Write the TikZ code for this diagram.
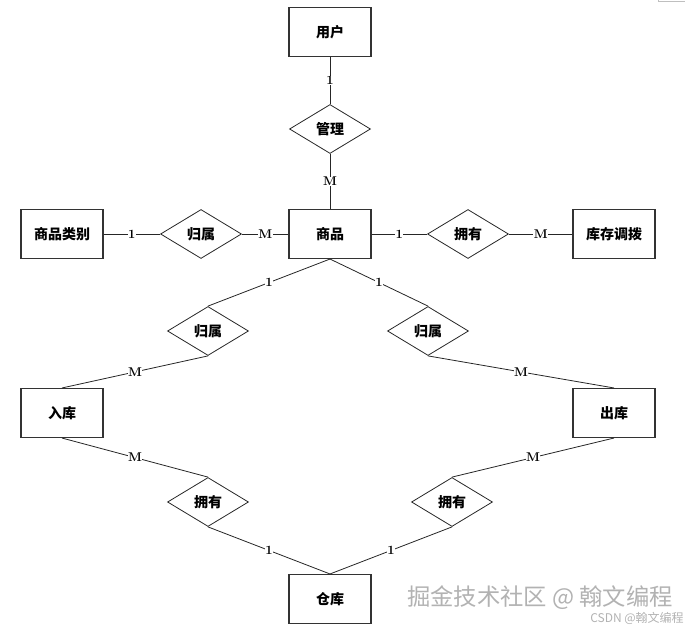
\documentclass[tikz,border=0pt]{standalone}
\usepackage{fontspec}
\newfontfamily\cjk{Noto Sans CJK SC}
\usetikzlibrary{shapes.geometric}

\begin{document}
\begin{tikzpicture}[x=0.75pt,y=-0.75pt]
      \newcommand{\cardlabel}[1]{node[midway,fill=white,inner sep=0.3pt,font=\bfseries\fontsize{9.5}{11}\selectfont] {#1}}
      \tikzstyle{link} = [draw=black!85,line width=0.6pt]
      \tikzstyle{entity}=[
        rectangle,
        draw=black!80,
        line width=0.8pt,
        minimum width=61.5pt,
        minimum height=36.75pt,
        font=\cjk\bfseries\fontsize{10.5}{12}\selectfont,
      ]
      \tikzstyle{relation}=[
        diamond,
        draw=black!85,
        line width=0.6pt,
        inner sep=0pt,
        minimum width=60.75pt,
        minimum height=36.75pt,
        font=\cjk\bfseries\fontsize{10.5}{12}\selectfont,
      ]
      \useasboundingbox (0,0) rectangle (693,631);

      \node[entity] (yonghu) at (330,32) {用户};
      \node[relation] (guanli) at (330,129) {管理};
      \node[entity] (shangpin) at (330,234) {商品};
      \node[entity] (leibie) at (62,234) {商品类别};
      \node[relation] (guishuA) at (201,234) {归属};
      \node[relation] (yongyouA) at (468,234) {拥有};
      \node[entity] (diaobo) at (614,234) {库存调拨};
      \node[relation] (guishuB) at (208,331) {归属};
      \node[relation] (guishuC) at (428,331) {归属};
      \node[entity] (ruku) at (62,413) {入库};
      \node[entity] (chuku) at (614,413) {出库};
      \node[relation] (yongyouB) at (208,502) {拥有};
      \node[relation] (yongyouC) at (452,502) {拥有};
      \node[entity] (cangku) at (330,599) {仓库};

      \draw[link] (yonghu) -- (guanli) \cardlabel{1};
      \draw[link] (guanli) -- (shangpin) \cardlabel{M};
      \draw[link] (leibie) -- (guishuA) \cardlabel{1};
      \draw[link] (guishuA) -- (shangpin) \cardlabel{M};
      \draw[link] (shangpin) -- (yongyouA) \cardlabel{1};
      \draw[link] (yongyouA) -- (diaobo) \cardlabel{M};
      \draw[link] (shangpin.south) -- (guishuB.north) \cardlabel{1};
      \draw[link] (guishuB.south) -- (ruku.north) \cardlabel{M};
      \draw[link] (shangpin.south) -- (guishuC.north) \cardlabel{1};
      \draw[link] (guishuC.south) -- (chuku.north) \cardlabel{M};
      \draw[link] (ruku.south) -- (yongyouB.north) \cardlabel{M};
      \draw[link] (yongyouB.south) -- (cangku.north) \cardlabel{1};
      \draw[link] (chuku.south) -- (yongyouC.north) \cardlabel{M};
      \draw[link] (yongyouC.south) -- (cangku.north) \cardlabel{1};

      % watermark and page corner mark
      \node[text=gray!60, font=\cjk\fontsize{17.5}{19}\selectfont] (wmark) at (540,598) {掘金技术社区 @ 翰文编程};
      \node[text=gray!60, font=\cjk\fontsize{9}{10}\selectfont] (csdn) at (637,618) {CSDN @翰文编程};
      \draw[gray!50, line width=0.5pt] (658,0) -- (658,1.5) -- (685,1.5);
    \end{tikzpicture}
\end{document}
